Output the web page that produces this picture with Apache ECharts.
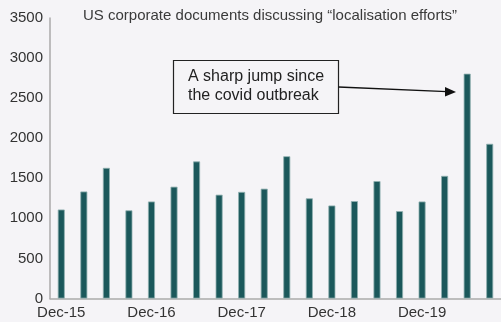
<!DOCTYPE html>
<html>
<head>
<meta charset="utf-8">
<script src="https://cdn.jsdelivr.net/npm/echarts@6/dist/echarts.min.js"></script>
<style>
html,body{margin:0;padding:0;background:#f5f4f7;}
#c{width:501px;height:322px;}
</style>
</head>
<body>
<div id="c"></div>
<script>
const categories = ['Dec-15','Mar-16','Jun-16','Sep-16','Dec-16','Mar-17','Jun-17','Sep-17','Dec-17','Mar-18','Jun-18','Sep-18','Dec-18','Mar-19','Jun-19','Sep-19','Dec-19','Mar-20','Jun-20','Sep-20'];
const values = [1110,1335,1630,1100,1210,1395,1710,1295,1330,1370,1775,1250,1160,1215,1465,1090,1210,1530,2805,1930];
const yTicks = [0,500,1000,1500,2000,2500,3000,3500];
const titleText = 'US corporate documents discussing \u201clocalisation efforts\u201d';
const noteLines = ['A sharp jump since','the covid outbreak'];

const FONT = '"Liberation Sans", Arial, sans-serif';
const chart = echarts.init(document.getElementById('c'), null, {renderer:'canvas'});
chart.setOption({
  backgroundColor:'#f5f4f7',
  animation:false,
  title:{
    text:titleText, left:78, top:3,
    textStyle:{fontFamily:FONT, fontSize:15, fontWeight:'normal', color:'#3a3a3a'}
  },
  grid:{left:50, top:18, width:455, bottom:23.5, containLabel:false},
  xAxis:{
    type:'category', data:categories, boundaryGap:true,
    axisLine:{lineStyle:{color:'#aaaaaa', width:1.5}},
    axisTick:{show:false},
    axisLabel:{interval:3, margin:7, fontFamily:FONT, fontSize:15, color:'#333'}
  },
  yAxis:{
    type:'value', min:yTicks[0], max:yTicks[yTicks.length-1], interval:500,
    axisLine:{show:true, lineStyle:{color:'#aaaaaa', width:1.5}},
    axisTick:{show:false},
    splitLine:{show:false},
    axisLabel:{margin:7, fontFamily:FONT, fontSize:15, color:'#333', formatter:function(v){return String(v);}}
  },
  series:[{
    type:'bar', data:values, barWidth:7,
    itemStyle:{color:'#1b585b', borderColor:'#8fb0b0', borderWidth:0.8}
  }],
  graphic:[
    {type:'rect', shape:{x:173.5, y:60.5, width:165, height:53},
     style:{fill:'#f5f4f7', stroke:'#222', lineWidth:1.2}},
    {type:'text', left:188, top:67,
     style:{text:noteLines.join('\n'), font:'16px '+FONT, fill:'#222', lineHeight:19}},
    {type:'line', shape:{x1:338.5, y1:87, x2:447, y2:91.6},
     style:{stroke:'#111', lineWidth:1.3}},
    {type:'polygon', shape:{points:[[456,92],[445,87],[445,96.5]]},
     style:{fill:'#111'}}
  ]
});
</script>
</body>
</html>
